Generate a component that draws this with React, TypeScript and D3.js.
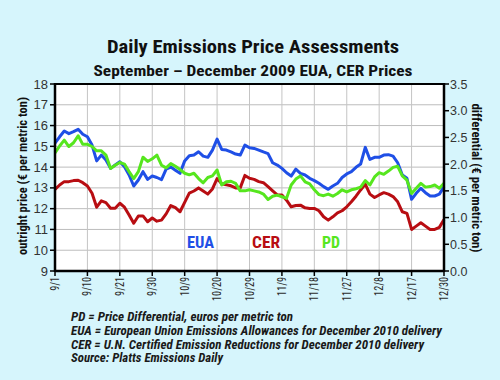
import React from "react";
import * as d3 from "d3";

const dates: string[] = [
  "9/1","9/2","9/3","9/4","9/7","9/8","9/9","9/10","9/11","9/14","9/15","9/16","9/17","9/18",
  "9/21","9/22","9/23","9/24","9/25","9/28","9/29","9/30",
  "10/1","10/2","10/5","10/6","10/7","10/8","10/9","10/12","10/13","10/14","10/15","10/16",
  "10/19","10/20","10/21","10/22","10/23","10/26","10/27","10/28","10/29","10/30",
  "11/2","11/3","11/4","11/5","11/6","11/9","11/10","11/11","11/12","11/13","11/16","11/17",
  "11/18","11/19","11/20","11/23","11/24","11/25","11/26","11/27","11/30",
  "12/1","12/2","12/3","12/4","12/7","12/8","12/9","12/10","12/11","12/14","12/15","12/16",
  "12/17","12/18","12/21","12/22","12/23","12/28","12/29","12/30",
];

const tickLabels: string[] = ["9/1","9/10","9/21","9/30","10/9","10/20","10/29","11/9","11/18","11/27","12/8","12/17","12/30"];

const eua: number[] = [
  15.15,15.46,15.74,15.61,15.71,15.82,15.58,15.46,15.06,14.3,14.58,14.34,13.94,14.1,14.26,14.02,13.62,13.09,13.38,13.78,13.41,13.57,
  13.5,13.4,13.9,14.0,13.85,13.7,14.3,14.55,14.58,14.74,14.53,14.47,14.82,15.35,14.85,14.82,14.73,14.63,14.58,15.06,14.93,14.9,
  14.82,14.73,14.65,14.21,14.1,13.94,13.73,13.57,13.9,13.7,13.62,13.46,13.35,13.22,13.06,12.93,13.09,13.22,13.5,13.67,13.78,
  13.99,14.15,14.95,14.37,14.47,14.47,14.58,14.6,14.53,14.21,13.62,13.46,12.45,12.74,12.98,12.77,12.61,12.61,12.7,13.06,
];

const cer: number[] = [
  12.93,13.14,13.3,13.3,13.35,13.37,13.25,13.09,12.74,12.07,12.38,12.29,12.02,12.02,12.26,12.07,11.7,11.3,11.65,11.65,11.37,11.55,
  11.4,11.45,11.75,12.15,12.05,11.85,12.3,12.75,12.85,13.0,12.85,12.7,12.95,13.45,13.2,13.15,13.1,13.0,13.0,13.6,13.46,13.41,
  13.3,13.25,13.06,12.86,12.66,12.66,12.41,12.09,12.15,12.17,12.04,12.01,12.01,11.9,11.61,11.45,11.61,11.8,11.9,12.09,12.33,
  12.6,12.9,13.18,12.7,12.54,12.66,12.77,12.7,12.58,12.33,11.85,11.77,11.0,11.16,11.32,11.16,11.0,11.0,11.1,11.48,
];

const pd: number[] = [
  2.21,2.34,2.45,2.33,2.4,2.53,2.37,2.37,2.33,2.25,2.25,2.17,1.92,1.98,2.03,2.0,1.86,1.73,1.86,2.13,2.05,2.1,
  2.17,1.98,1.93,2.01,1.96,1.9,1.83,1.8,1.83,1.73,1.65,1.75,1.78,1.89,1.61,1.67,1.68,1.64,1.5,1.5,1.52,1.5,
  1.48,1.44,1.34,1.4,1.42,1.39,1.36,1.61,1.72,1.78,1.67,1.63,1.52,1.43,1.41,1.44,1.4,1.45,1.52,1.48,1.52,
  1.54,1.57,1.69,1.61,1.76,1.84,1.81,1.87,1.94,1.96,1.78,1.7,1.45,1.55,1.64,1.57,1.58,1.61,1.55,1.64,
];

const leftTicks: number[] = [9, 10, 11, 12, 13, 14, 15, 16, 17, 18];
const rightTicks: number[] = [0, 0.5, 1, 1.5, 2, 2.5, 3, 3.5];

const footnotes: string[] = [
  "PD = Price Differential, euros per metric ton",
  "EUA = European Union Emissions Allowances for December 2010 delivery",
  "CER = U.N. Certified Emission Reductions for December 2010 delivery",
  "Source: Platts Emissions Daily",
];
const footWidths = [222, 371, 353, 152];

const COL_EUA = "#1f4fe6";
const COL_CER = "#b80d12";
const COL_PD = "#56e61e";
const FONT = "'Liberation Sans Narrow', 'Roboto Condensed', Roboto, 'Liberation Sans', sans-serif";

export default function App() {
  const W = 500, H = 380;
  const L = 55, R = 444, T = 84, B = 271;
  const x = d3.scalePoint<string>().domain(dates).range([L, R]);
  const yL = d3.scaleLinear().domain([9, 18]).range([B, T]);
  const yR = d3.scaleLinear().domain([0, 3.5]).range([B, T]);

  const lineL = d3.line<number>().x((_, i) => x(dates[i]) as number).y((d) => yL(d));
  const lineR = d3.line<number>().x((_, i) => x(dates[i]) as number).y((d) => yR(d));

  return (
    <svg width={W} height={H} style={{ position: "absolute", left: 0, top: 0, display: "block" }}>
      <rect x={0} y={0} width={W} height={H} fill="#d6f5fc" />
      <text x={253} y={53} textAnchor="middle" fontFamily={FONT} fontWeight="bold" fontSize={19}
        textLength={292} lengthAdjust="spacingAndGlyphs" fill="#111">Daily Emissions Price Assessments</text>
      <text x={253} y={76} textAnchor="middle" fontFamily={FONT} fontWeight="bold" fontSize={15.5}
        textLength={319} lengthAdjust="spacingAndGlyphs" fill="#111">September – December 2009 EUA, CER Prices</text>

      <rect x={L} y={T} width={R - L} height={B - T} fill="#ffffff" />
      {leftTicks.map((t) => (
        <line key={"hg" + t} x1={L} x2={R} y1={yL(t)} y2={yL(t)} stroke="#bdbdbd" strokeWidth={1} />
      ))}
      {tickLabels.map((t) => (
        <line key={"vg" + t} x1={x(t)} x2={x(t)} y1={T} y2={B} stroke="#c4c4c4" strokeWidth={1} />
      ))}

      <path d={lineL(eua) || ""} fill="none" stroke={COL_EUA} strokeWidth={3} strokeLinejoin="round" />
      <path d={lineL(cer) || ""} fill="none" stroke={COL_CER} strokeWidth={3} strokeLinejoin="round" />
      <path d={lineR(pd) || ""} fill="none" stroke={COL_PD} strokeWidth={3} strokeLinejoin="round" />

      <rect x={L} y={T} width={R - L} height={B - T} fill="none" stroke="#000" strokeWidth={2} />
      <line x1={L} x2={L} y1={T - 1} y2={B + 1} stroke="#000" strokeWidth={2.5} />
      <line x1={R} x2={R} y1={T - 1} y2={B + 1} stroke="#000" strokeWidth={2.5} />
      <line x1={L} x2={R} y1={B} y2={B} stroke="#000" strokeWidth={2.5} />

      {leftTicks.map((t) => (
        <g key={"lt" + t}>
          <line x1={L - 5} x2={L} y1={yL(t)} y2={yL(t)} stroke="#000" strokeWidth={1.5} />
          <text x={L - 7} y={yL(t) + 4.5} textAnchor="end" fontFamily="'Liberation Sans', Arial, sans-serif"
            fontSize={13} fill="#333">{t}</text>
        </g>
      ))}
      {rightTicks.map((t) => (
        <g key={"rt" + t}>
          <line x1={R} x2={R + 5} y1={yR(t)} y2={yR(t)} stroke="#000" strokeWidth={1.5} />
          <text x={R + 6} y={yR(t) + 4.5} textAnchor="start" fontFamily="'Liberation Sans', Arial, sans-serif"
            fontSize={12.5} fill="#333">{t.toFixed(1)}</text>
        </g>
      ))}
      {tickLabels.map((t) => (
        <g key={"xt" + t}>
          <line x1={x(t)} x2={x(t)} y1={B} y2={B + 5} stroke="#000" strokeWidth={1.5} />
          <text transform={`translate(${(x(t) as number) + 4},${B + 6}) rotate(-90) scale(0.85,1)`}
            textAnchor="end" fontFamily={FONT} fontSize={12} fill="#2a2a2a">{t}</text>
        </g>
      ))}

      <text transform={`translate(27,176) rotate(-90)`} textAnchor="middle" fontFamily={FONT} fontWeight="bold"
        fontSize={13} textLength={158} lengthAdjust="spacingAndGlyphs" fill="#111">outright price (€ per metric ton)</text>
      <text transform={`translate(472,178) rotate(90)`} textAnchor="middle" fontFamily={FONT} fontWeight="bold"
        fontSize={13} textLength={149} lengthAdjust="spacingAndGlyphs" fill="#111">differential (€ per metric ton)</text>

      <text x={187} y={248} fontFamily={FONT} fontWeight="bold" fontSize={16} textLength={27}
        lengthAdjust="spacingAndGlyphs" fill={COL_EUA}>EUA</text>
      <text x={252} y={248} fontFamily={FONT} fontWeight="bold" fontSize={16} textLength={28}
        lengthAdjust="spacingAndGlyphs" fill={COL_CER}>CER</text>
      <text x={322} y={248} fontFamily={FONT} fontWeight="bold" fontSize={16} textLength={18}
        lengthAdjust="spacingAndGlyphs" fill={COL_PD}>PD</text>

      {footnotes.map((f, i) => (
        <text key={f} x={71} y={321 + i * 13.8} fontFamily={FONT} fontStyle="italic" fontWeight="bold"
          fontSize={12} textLength={footWidths[i]} lengthAdjust="spacingAndGlyphs" fill="#1a1a1a">{f}</text>
      ))}
    </svg>
  );
}
